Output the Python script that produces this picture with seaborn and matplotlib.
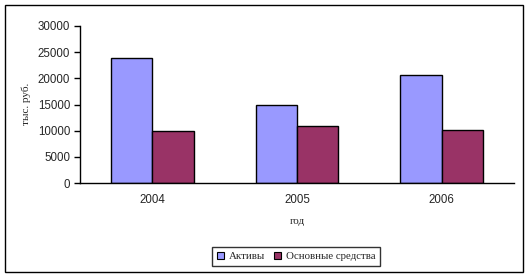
import matplotlib
matplotlib.use("Agg")
import matplotlib.pyplot as plt
import seaborn as sns
import pandas as pd
from matplotlib.patches import Rectangle

years = ["2004", "2005", "2006"]
series_names = ["Активы", "Основные средства"]
aktivy = [23900, 14900, 20650]
osnovnye = [10000, 10850, 10150]
y_ticks = [0, 5000, 10000, 15000, 20000, 25000, 30000]

df = pd.DataFrame({
    "year": years * 2,
    "series": [series_names[0]] * 3 + [series_names[1]] * 3,
    "value": aktivy + osnovnye,
})

sns.set_style("white")
plt.rcParams["font.family"] = ["Liberation Sans", "DejaVu Sans"]

W, H = 528, 277
fig = plt.figure(figsize=(W / 100, H / 100), dpi=100)
ax = fig.add_axes([80 / W, (H - 183) / H, (514 - 80) / W, (183 - 26) / H])

sns.barplot(data=df, x="year", y="value", hue="series", order=years,
            hue_order=series_names, palette=["#9999FF", "#993366"],
            width=0.57, gap=0, edgecolor="black", linewidth=1.0,
            ax=ax, legend=False, errorbar=None, saturation=1)

ax.set_ylim(0, 30000)
ax.set_xlim(-0.5, 2.5)
ax.set_yticks(y_ticks)
ax.set_yticklabels([str(v) for v in y_ticks], fontsize=8.3)
ax.set_xticks([0, 1, 2])
ax.set_xticklabels(years, fontsize=8.3)
ax.set_xticks([-0.5, 0.5, 1.5, 2.5], minor=True)
ax.tick_params(axis="x", which="major", length=0, pad=8)
ax.tick_params(axis="x", which="minor", length=4, width=1, color="black", direction="out")
ax.tick_params(axis="y", which="major", length=4, width=1, color="black", direction="out", left=True, pad=3)
for s in ["top", "right"]:
    ax.spines[s].set_visible(False)
for s in ["left", "bottom"]:
    ax.spines[s].set_color("black")
    ax.spines[s].set_linewidth(1)

ax.set_xlabel("")
ax.set_ylabel("")
fig.text(26 / W, 1 - 104 / H, "тыс. руб.", rotation=90, ha="center", va="center",
         fontsize=8, family=["Liberation Serif", "DejaVu Serif"])
fig.text(297 / W, 1 - 221 / H, "год", ha="center", va="center",
         fontsize=8, family=["Liberation Serif", "DejaVu Serif"])

handles = [Rectangle((0, 0), 1, 1, facecolor=c, edgecolor="black", linewidth=0.8)
           for c in ["#9999FF", "#993366"]]
leg = fig.legend(handles, series_names, loc="center", bbox_to_anchor=(296 / W, 1 - 256.5 / H),
                 ncol=2, frameon=True, fancybox=False,
                 prop={"family": ["Liberation Serif", "DejaVu Serif"], "size": 7.8},
                 handlelength=0.7, handleheight=0.7, handletextpad=0.4, columnspacing=0.8,
                 borderpad=0.45, borderaxespad=0)
leg.get_frame().set_edgecolor("black")
leg.get_frame().set_linewidth(1)

fig.patches.append(Rectangle((5 / W, 1 - 272 / H), (523 - 5) / W, (272 - 5) / H,
                             transform=fig.transFigure, fill=False, edgecolor="black",
                             linewidth=1))

fig.savefig("out.png", dpi=100)
